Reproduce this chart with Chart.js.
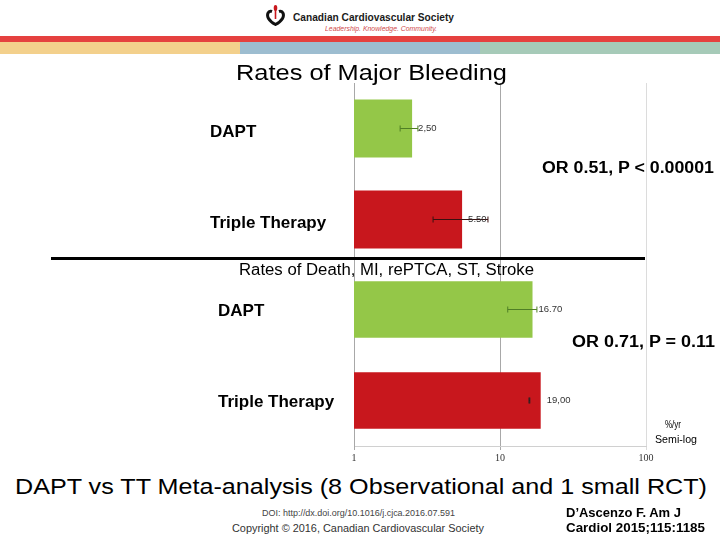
<!DOCTYPE html>
<html>
<head>
<meta charset="utf-8">
<script src="https://cdn.jsdelivr.net/npm/chart.js@4"></script>
<style>
  body { margin: 0; width: 720px; height: 540px; position: relative; background: #fff; overflow: hidden;
         font-family: 'Liberation Sans', Arial, sans-serif; }
  .t { position: absolute; white-space: nowrap; line-height: 1; transform-origin: 0 0; }
  .b { font-weight: bold; }
  .band { position: absolute; height: 12px; top: 42px; width: 240px; }
  canvas { position: absolute; }
</style>
</head>
<body>

<!-- slide header -->
<svg style="position:absolute;left:265px;top:4px" width="21" height="22" viewBox="0 0 20 22">
  <path d="M6.5,7.5 C2.5,6 1,11 3,14.5 C5,18 8,19.5 10,20.5 C12,19.5 15,18 17,14.5 C19,11 17.5,6 13.5,7.5" fill="none" stroke="#111" stroke-width="3"/>
  <ellipse cx="10" cy="4" rx="1.8" ry="3" fill="#c8171d"/>
  <rect x="9.2" y="6" width="1.6" height="9" fill="#c8171d"/>
</svg>
<div class="t b" data-w="161" style="left:293px;top:12px;font-size:11px;color:#1a1a1a">Canadian Cardiovascular Society</div>
<div class="t" data-w="112" style="left:325px;top:25px;font-size:7.5px;font-style:italic;color:#d04a4a">Leadership. Knowledge. Community.</div>
<div style="position:absolute;left:0;top:36px;width:720px;height:6px;background:#e5413f"></div>
<div class="band" style="left:0;background:#f3d08c"></div>
<div class="band" style="left:240px;background:#9dbdd0"></div>
<div class="band" style="left:480px;background:#a6cab8"></div>

<!-- charts -->
<canvas id="bleed-chart" width="438" height="182" style="left:210px;top:83px"></canvas>
<canvas id="outcome-chart" width="440" height="206" style="left:218px;top:264px"></canvas>

<!-- titles and notes -->
<div class="t" data-w="271" style="left:236px;top:62px;font-size:22px">Rates of Major Bleeding</div>
<div class="t b" data-w="172" style="left:542px;top:160px;font-size:16px">OR 0.51, P &lt; 0.00001</div>
<div style="position:absolute;left:51px;top:257px;width:594px;height:3px;background:#000"></div>
<div class="t" data-w="295" style="left:239px;top:262px;font-size:16px">Rates of Death, MI, rePTCA, ST, Stroke</div>
<div class="t b" data-w="143" style="left:572px;top:334px;font-size:16px">OR 0.71, P = 0.11</div>
<div class="t" data-w="16" style="left:665px;top:420px;font-size:10px">%/yr</div>
<div class="t" data-w="42" style="left:655px;top:435px;font-size:10px">Semi-log</div>
<div class="t" data-w="692" style="left:15px;top:476px;font-size:22px">DAPT vs TT Meta-analysis (8 Observational and 1 small RCT)</div>

<!-- footer -->
<div class="t" data-w="193" style="left:262px;top:509px;font-size:9px;color:#444">DOI: http://dx.doi.org/10.1016/j.cjca.2016.07.591</div>
<div class="t" data-w="252" style="left:232px;top:523px;font-size:11px;color:#333">Copyright © 2016, Canadian Cardiovascular Society</div>
<div class="t b" data-w="115" style="left:566px;top:507px;font-size:12px">D’Ascenzo F. Am J</div>
<div class="t b" data-w="139" style="left:566px;top:522px;font-size:12px">Cardiol 2015;115:1185</div>

<script>
// categories and values (%/yr)
const groups = ['DAPT', 'Triple Therapy'];
const barColors = ['#94c748', '#c8171d'];

// major bleeding
const bleedRates = [2.5, 5.5];
const bleedLow = [2.07, 3.48];
const bleedHigh = [2.74, 8.27];
const bleedLabels = ['2,50', '5.50'];
const bleedWhiskers = ['#4f7f25', '#3a1010'];

// death, MI, rePTCA, ST, stroke
const outcomeRates = [16.7, 19.0];
const outcomeLow = [11.3, 15.8];
const outcomeHigh = [17.9, 16.0];
const outcomeLabels = ['16.70', '19,00'];
const outcomeWhiskers = ['#4f7f25', '#222'];

// semi-log axis
const tickVals = [1, 10, 100];
const tickLabels = ['1', '10', '100'];

// stretch slide text to the widths used on the original slide
document.querySelectorAll('[data-w]').forEach(el => {
    const w = el.getBoundingClientRect().width;
    el.style.transform = `scaleX(${el.dataset.w / w})`;
});

// whiskers and value labels next to each bar
const errorBars = {
    id: 'errorBars',
    afterDatasetsDraw(chart, args, opts) {
        const ctx = chart.ctx;
        const xs = chart.scales.x;
        chart.getDatasetMeta(0).data.forEach((bar, i) => {
            const x0 = xs.getPixelForValue(opts.low[i]);
            const x1 = xs.getPixelForValue(opts.high[i]);
            ctx.save();
            ctx.strokeStyle = opts.colors[i];
            ctx.lineWidth = 1;
            ctx.beginPath();
            ctx.moveTo(x0, bar.y); ctx.lineTo(x1, bar.y);
            ctx.moveTo(x0, bar.y - 3); ctx.lineTo(x0, bar.y + 3);
            ctx.moveTo(x1, bar.y - 3); ctx.lineTo(x1, bar.y + 3);
            ctx.stroke();
            ctx.fillStyle = '#333';
            ctx.font = '9.5px "Liberation Sans", Arial';
            ctx.textBaseline = 'middle';
            ctx.fillText(opts.labels[i], bar.x + 6, bar.y);
            ctx.restore();
        });
    }
};

const buildChart = (id, rates, low, high, labels, whiskers, opt) => {
    return new Chart(document.getElementById(id), {
        type: 'bar',
        data: {
            labels: groups,
            datasets: [{
                data: rates,
                backgroundColor: barColors,
                barPercentage: opt.barPct,
                categoryPercentage: 1
            }]
        },
        options: {
            indexAxis: 'y',
            responsive: false,
            animation: false,
            layout: { padding: { right: opt.padRight } },
            plugins: {
                legend: { display: false },
                tooltip: { enabled: false },
                errorBars: { low: low, high: high, labels: labels, colors: whiskers }
            },
            scales: {
                x: {
                    type: 'logarithmic',
                    min: 1,
                    max: 100,
                    afterBuildTicks: (axis) => { axis.ticks = tickVals.map(v => ({ value: v })); },
                    afterFit: (axis) => {
                        axis.height = opt.xHeight;
                        axis.paddingLeft = 0;
                        axis.paddingRight = 0;
                    },
                    grid: {
                        color: (c) => c.tick && c.tick.value === 100 ? '#dcdcdc' : '#a8a8a8',
                        drawTicks: opt.showTicks,
                        tickLength: 4
                    },
                    border: { display: opt.showTicks, color: '#d0d0d0' },
                    ticks: {
                        display: opt.showTicks,
                        padding: 2,
                        color: '#333',
                        font: { family: '"Liberation Serif", serif', size: 10 },
                        callback: (v, i) => tickLabels[i]
                    }
                },
                y: {
                    afterFit: (axis) => {
                        axis.width = opt.yWidth;
                        axis.paddingTop = 0;
                        axis.paddingBottom = 0;
                    },
                    grid: { display: false },
                    border: { color: '#a8a8a8' },
                    ticks: {
                        crossAlign: 'far',
                        labelOffset: opt.labelOffset,
                        color: '#000',
                        font: { family: '"Liberation Sans", Arial', size: 17, weight: 'bold' }
                    }
                }
            }
        },
        plugins: [errorBars]
    });
};

buildChart('bleed-chart', bleedRates, bleedLow, bleedHigh, bleedLabels, bleedWhiskers,
    { barPct: 0.64, xHeight: 0, showTicks: false, yWidth: 144, labelOffset: 4, padRight: 2 });
buildChart('outcome-chart', outcomeRates, outcomeLow, outcomeHigh, outcomeLabels, outcomeWhiskers,
    { barPct: 0.62, xHeight: 24, showTicks: true, yWidth: 136, labelOffset: 2, padRight: 12 });
</script>
</body>
</html>
